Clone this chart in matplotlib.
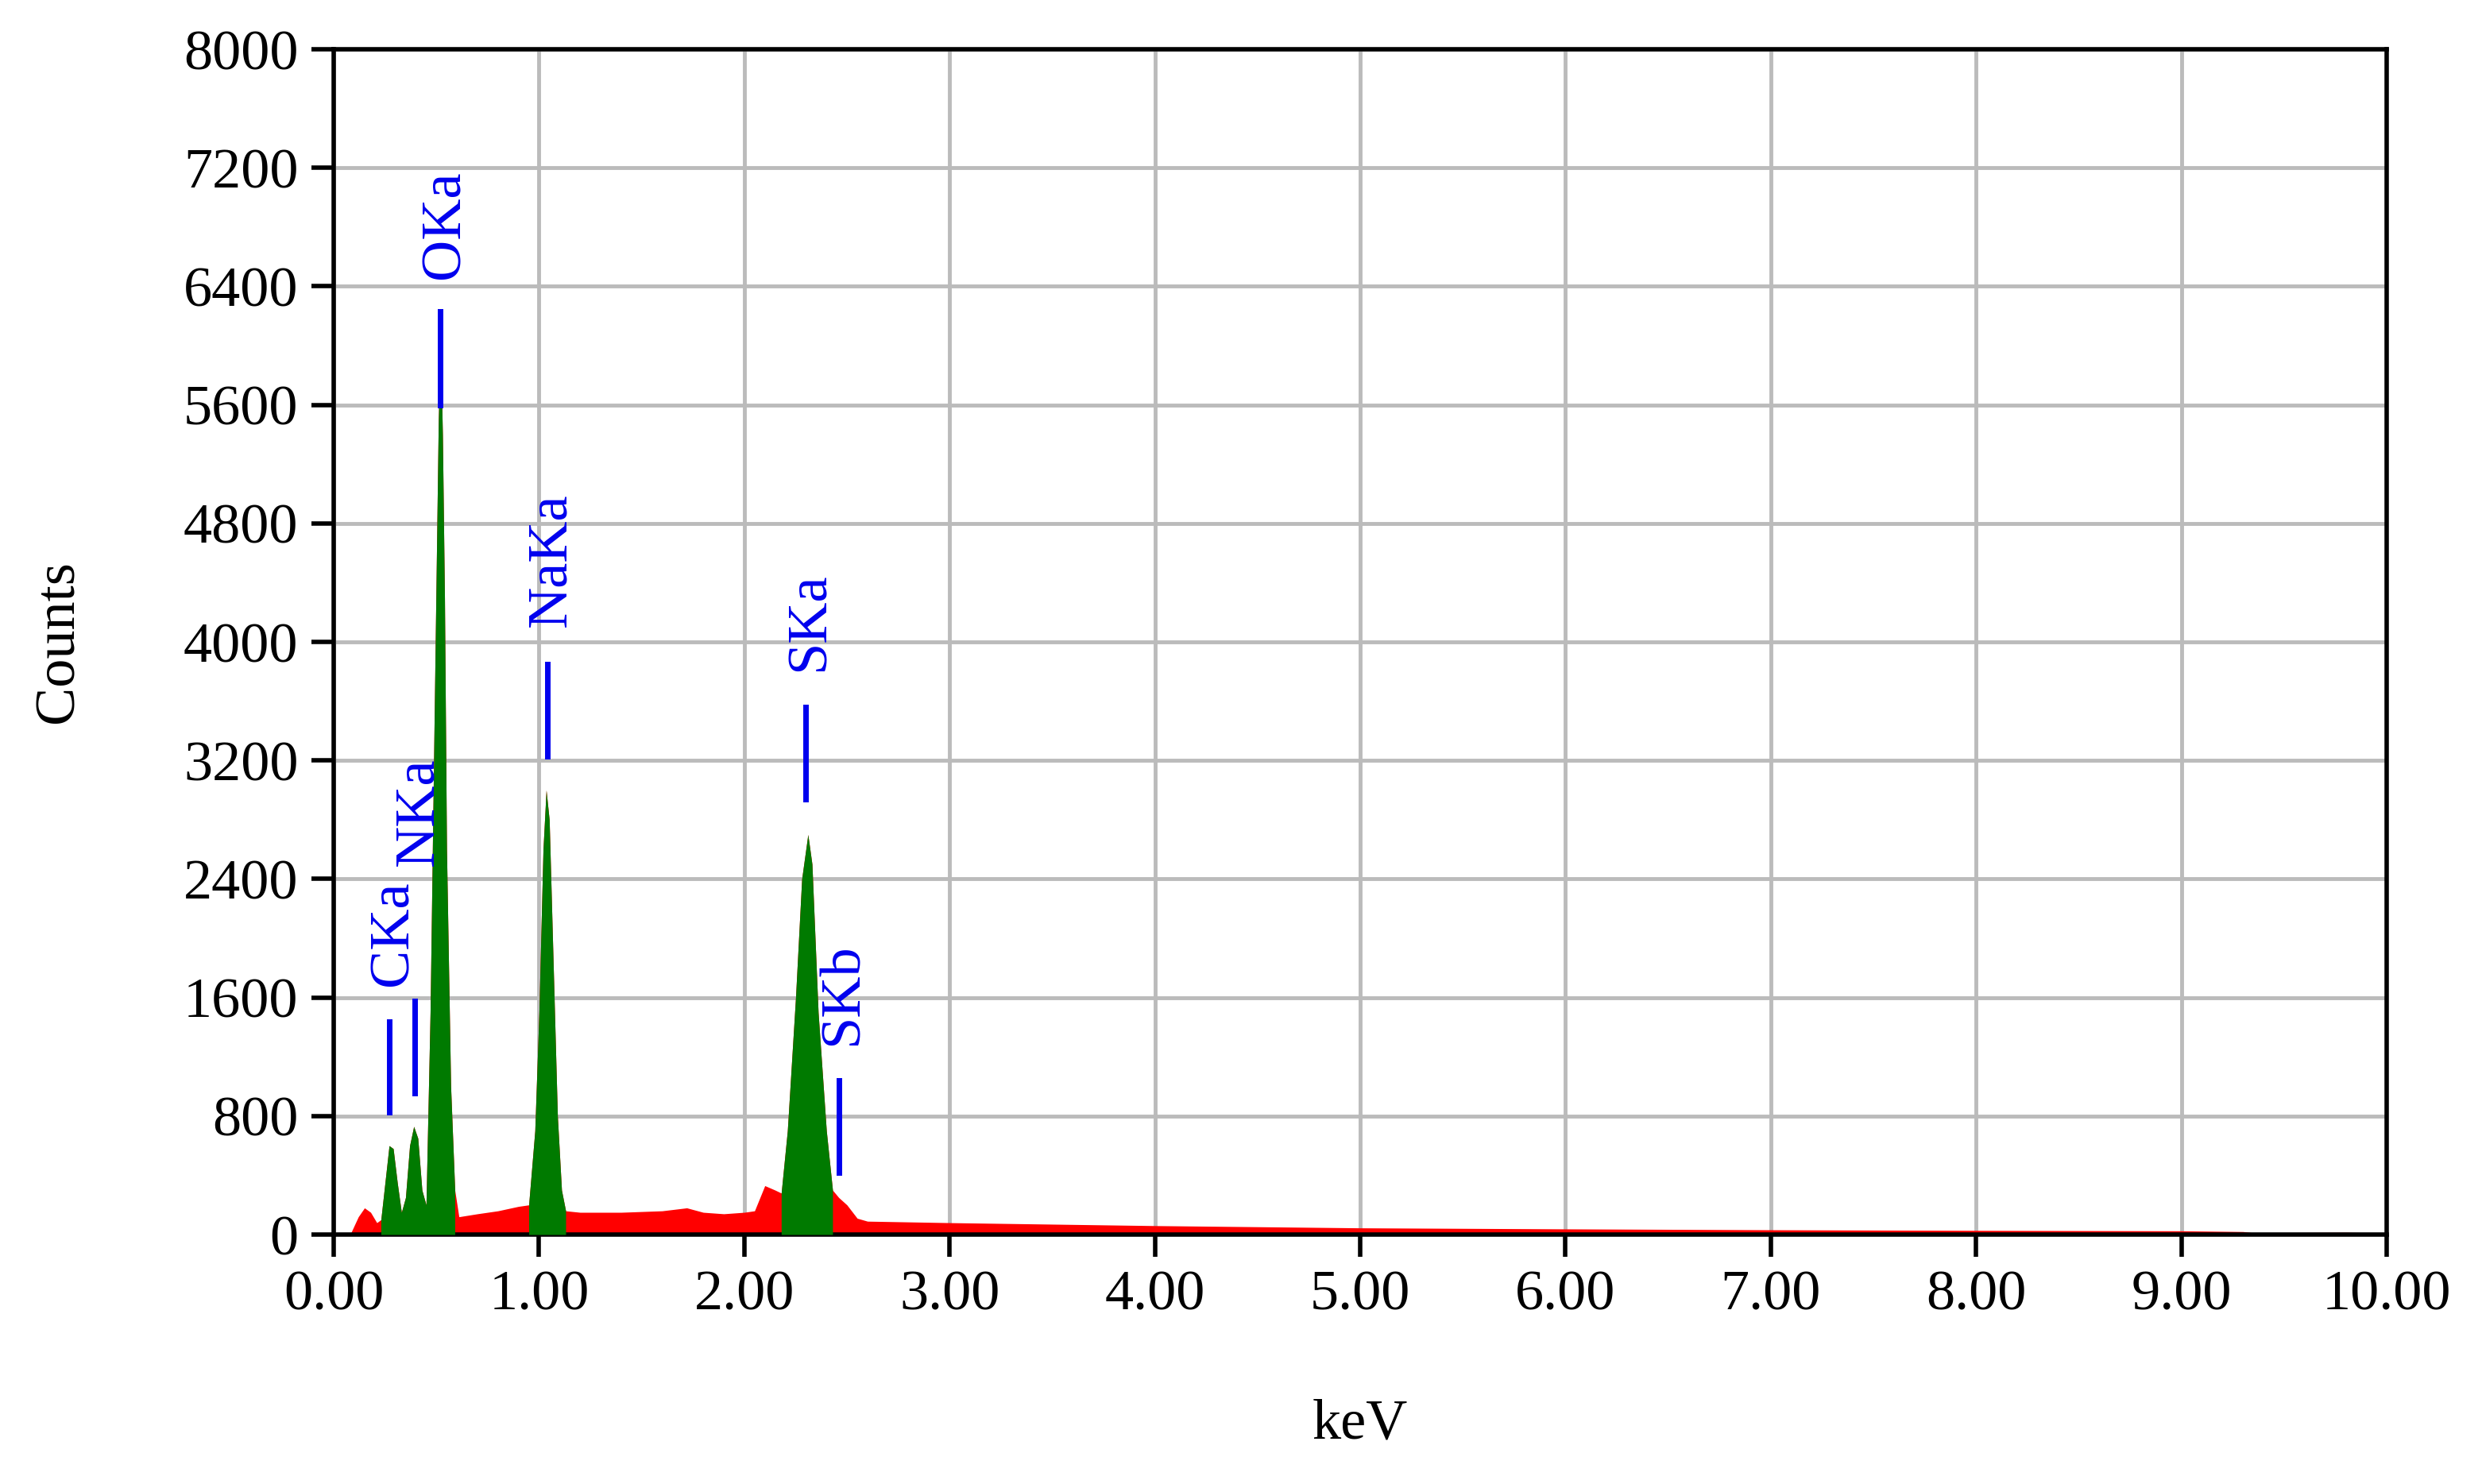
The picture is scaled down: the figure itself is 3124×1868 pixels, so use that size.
import matplotlib
matplotlib.use("Agg")
import matplotlib.pyplot as plt
import numpy as np

plt.rcParams['font.family'] = ['Liberation Serif', 'DejaVu Serif']

energy = [0.00, 0.08, 0.12, 0.15, 0.18, 0.21, 0.23, 0.25, 0.27, 0.29, 0.31, 0.33, 0.35, 0.37, 0.39,
          0.41, 0.43, 0.45, 0.47, 0.49, 0.51, 0.52, 0.53, 0.54, 0.55, 0.57, 0.59, 0.61, 0.70, 0.80,
          0.90, 0.95, 0.98, 1.00, 1.02, 1.035, 1.05, 1.07, 1.09, 1.11, 1.13, 1.20, 1.40, 1.60, 1.72,
          1.80, 1.90, 2.00, 2.05, 2.10, 2.15, 2.18, 2.21, 2.25, 2.28, 2.31, 2.33, 2.36, 2.40, 2.43,
          2.46, 2.50, 2.55, 2.60, 3.00, 3.50, 4.00, 5.00, 6.00, 7.00, 8.00, 9.00, 9.30, 9.35, 9.80, 10.00]
counts = [0, 0, 120, 180, 150, 80, 100, 350, 600, 580, 350, 150, 250, 600, 730,
          650, 300, 200, 1500, 3500, 5500, 6050, 5400, 4300, 2600, 1000, 300, 120, 140, 160,
          190, 200, 700, 1500, 2600, 3000, 2800, 1800, 800, 300, 160, 150, 150, 160, 180,
          150, 140, 150, 160, 330, 300, 280, 700, 1600, 2400, 2700, 2500, 1500, 700, 300,
          250, 200, 110, 90, 80, 70, 60, 45, 38, 32, 28, 25, 20, 12, 15, 10]
green_ranges = [(0.22, 0.60), (0.95, 1.13), (2.18, 2.44)]

labels = ['CKa', 'NKa', 'OKa', 'NaKa', 'SKa', 'SKb']
label_x = [0.27, 0.395, 0.52, 1.04, 2.30, 2.46]
line_lo = [825, 955, 5600, 3230, 2940, 420]
line_hi = [1437, 1575, 6230, 3850, 3560, 1040]
label_y = [1680, 2490, 6450, 4100, 3800, 1275]

fig = plt.figure(figsize=(31.24, 18.68), dpi=100)
ax = fig.add_axes([420/3124, 1 - 1554/1868, (3004-420)/3124, (1554-62)/1868])

e = np.array(energy); c = np.array(counts)
ax.fill_between(e, 0, c, color='#ff0000', lw=0, zorder=2)
for lo, hi in green_ranges:
    m = (e >= lo) & (e <= hi)
    ax.fill_between(e[m], 0, c[m], color='#007a00', lw=0, zorder=3)

for t, x, lo, hi, ly in zip(labels, label_x, line_lo, line_hi, label_y):
    ax.plot([x, x], [lo, hi], color='#0000ee', lw=5, zorder=4)
    ax.text(x + 0.02, ly, t, rotation=90, color='#0000ee', fontsize=52,
            ha='center', va='bottom', zorder=5)

ax.set_xlim(0, 10)
ax.set_ylim(0, 8000)
ax.set_xticks(np.arange(0, 10.01, 1))
ax.set_xticklabels([f"{v:.2f}" for v in np.arange(0, 10.01, 1)])
ax.set_yticks(np.arange(0, 8001, 800))
ax.grid(True, color='#bbbbbb', lw=3.5, zorder=0)
ax.set_axisbelow(True)
for s in ax.spines.values():
    s.set_linewidth(4)
ax.tick_params(labelsize=52, width=4, length=20, direction='out', pad=12)
ax.set_xlabel('keV', fontsize=52, labelpad=70)
ax.set_ylabel('Counts', fontsize=52, labelpad=90)

fig.savefig('out.png', dpi=100, facecolor='white')
